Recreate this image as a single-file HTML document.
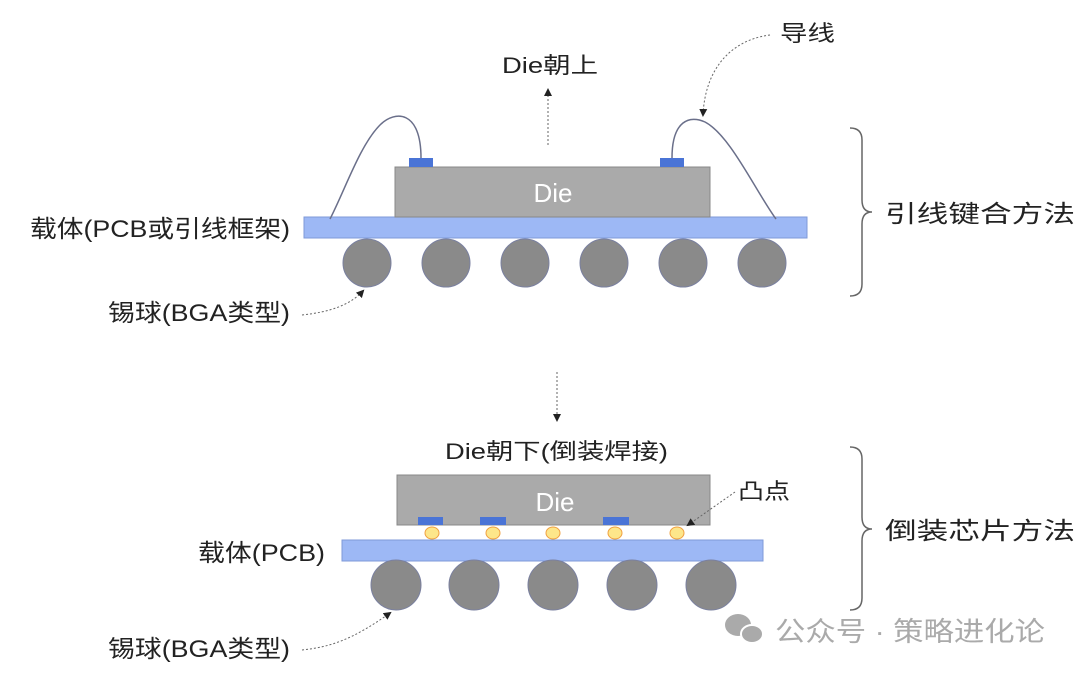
<!DOCTYPE html>
<html><head><meta charset="utf-8"><style>
body{margin:0;background:#fff;width:1080px;height:674px;overflow:hidden;font-family:"Liberation Sans","Noto Sans CJK SC",sans-serif}
</style></head><body>
<svg width="1080" height="674" xmlns="http://www.w3.org/2000/svg" font-family="Liberation Sans, Noto Sans CJK SC, sans-serif">
<defs><marker id="a" markerWidth="8" markerHeight="8" refX="6" refY="4" orient="auto"><path d="M0,0 L8,4 L0,8z" fill="#222"/></marker></defs>
<!-- top -->
<rect x="304" y="217" width="503" height="21" fill="#9db8f5" stroke="#7f9ad8"/>
<rect x="395" y="167" width="315" height="50" fill="#aaaaaa" stroke="#888"/>
<rect x="409" y="158" width="24" height="9" fill="#4a74d6"/>
<rect x="660" y="158" width="24" height="9" fill="#4a74d6"/>
<text x="553" y="202" fill="#fff" font-size="26" text-anchor="middle">Die</text>
<path d="M421,158 C421,110 395,110 380,125 C360,145 345,190 330,219" fill="none" stroke="#6a6f8a" stroke-width="1.5"/>
<path d="M672,158 C672,120 690,115 705,122 C730,135 755,190 776,219" fill="none" stroke="#6a6f8a" stroke-width="1.5"/>
<g fill="#8a8a8a" stroke="#7a80a0"><circle cx="367" cy="263" r="24"/><circle cx="446" cy="263" r="24"/><circle cx="525" cy="263" r="24"/><circle cx="604" cy="263" r="24"/><circle cx="683" cy="263" r="24"/><circle cx="762" cy="263" r="24"/></g>
<line x1="548" y1="145" x2="548" y2="90" stroke="#666" stroke-dasharray="2,2" marker-end="url(#a)"/>
<path d="M770,35 C730,40 705,70 703,115" fill="none" stroke="#666" stroke-dasharray="2,2" marker-end="url(#a)"/>
<path d="M302,315 C330,312 350,305 363,291" fill="none" stroke="#666" stroke-dasharray="2,2" marker-end="url(#a)"/>
<text x="502" y="73" font-size="22" fill="#222" textLength="96" lengthAdjust="spacingAndGlyphs">Die朝上</text>
<text x="780" y="41" font-size="22" fill="#222" textLength="55" lengthAdjust="spacingAndGlyphs">导线</text>
<text x="30" y="237" font-size="24" fill="#222" textLength="260" lengthAdjust="spacingAndGlyphs">载体(PCB或引线框架)</text>
<text x="108" y="321" font-size="24" fill="#222" textLength="182" lengthAdjust="spacingAndGlyphs">锡球(BGA类型)</text>
<text x="885" y="222" font-size="24" fill="#222" textLength="190" lengthAdjust="spacingAndGlyphs">引线键合方法</text>
<path d="M850,128 Q862,128 862,140 L862,200 Q862,212 872,212 Q862,212 862,224 L862,284 Q862,296 850,296" fill="none" stroke="#666" stroke-width="1.5"/>
<line x1="557" y1="372" x2="557" y2="420" stroke="#666" stroke-dasharray="2,2" marker-end="url(#a)"/>
<!-- bottom -->
<rect x="342" y="540" width="421" height="21" fill="#9db8f5" stroke="#7f9ad8"/>
<rect x="397" y="475" width="313" height="50" fill="#aaaaaa" stroke="#888"/>
<g fill="#4a74d6"><rect x="418" y="517" width="25" height="8"/><rect x="480" y="517" width="26" height="8"/><rect x="603" y="517" width="26" height="8"/></g>
<g fill="#fde68a" stroke="#f0a040"><ellipse cx="432" cy="533" rx="7" ry="6"/><ellipse cx="493" cy="533" rx="7" ry="6"/><ellipse cx="553" cy="533" rx="7" ry="6"/><ellipse cx="615" cy="533" rx="7" ry="6"/><ellipse cx="677" cy="533" rx="7" ry="6"/></g>
<text x="555" y="511" fill="#fff" font-size="26" text-anchor="middle">Die</text>
<g fill="#8a8a8a" stroke="#7a80a0"><circle cx="396" cy="585" r="25"/><circle cx="474" cy="585" r="25"/><circle cx="553" cy="585" r="25"/><circle cx="632" cy="585" r="25"/><circle cx="711" cy="585" r="25"/></g>
<line x1="735" y1="492" x2="688" y2="525" stroke="#666" stroke-dasharray="2,2" marker-end="url(#a)"/>
<path d="M302,650 C330,647 352,640 390,613" fill="none" stroke="#666" stroke-dasharray="2,2" marker-end="url(#a)"/>
<text x="445" y="459" font-size="22" fill="#222" textLength="223" lengthAdjust="spacingAndGlyphs">Die朝下(倒装焊接)</text>
<text x="738" y="499" font-size="22" fill="#222" textLength="52" lengthAdjust="spacingAndGlyphs">凸点</text>
<text x="198" y="561" font-size="24" fill="#222" textLength="127" lengthAdjust="spacingAndGlyphs">载体(PCB)</text>
<text x="108" y="657" font-size="24" fill="#222" textLength="182" lengthAdjust="spacingAndGlyphs">锡球(BGA类型)</text>
<text x="885" y="539" font-size="24" fill="#222" textLength="190" lengthAdjust="spacingAndGlyphs">倒装芯片方法</text>
<path d="M850,447 Q862,447 862,459 L862,517 Q862,529 872,529 Q862,529 862,541 L862,598 Q862,610 850,610" fill="none" stroke="#666" stroke-width="1.5"/>
<!-- watermark -->
<ellipse cx="738" cy="625" rx="13" ry="11" fill="#aaa"/>
<ellipse cx="752" cy="634" rx="11" ry="9" fill="#aaa" stroke="#fff" stroke-width="2"/>
<text x="775" y="641" font-size="27" fill="#aaa" textLength="270" lengthAdjust="spacingAndGlyphs">公众号 · 策略进化论</text>
</svg>
</body></html>
